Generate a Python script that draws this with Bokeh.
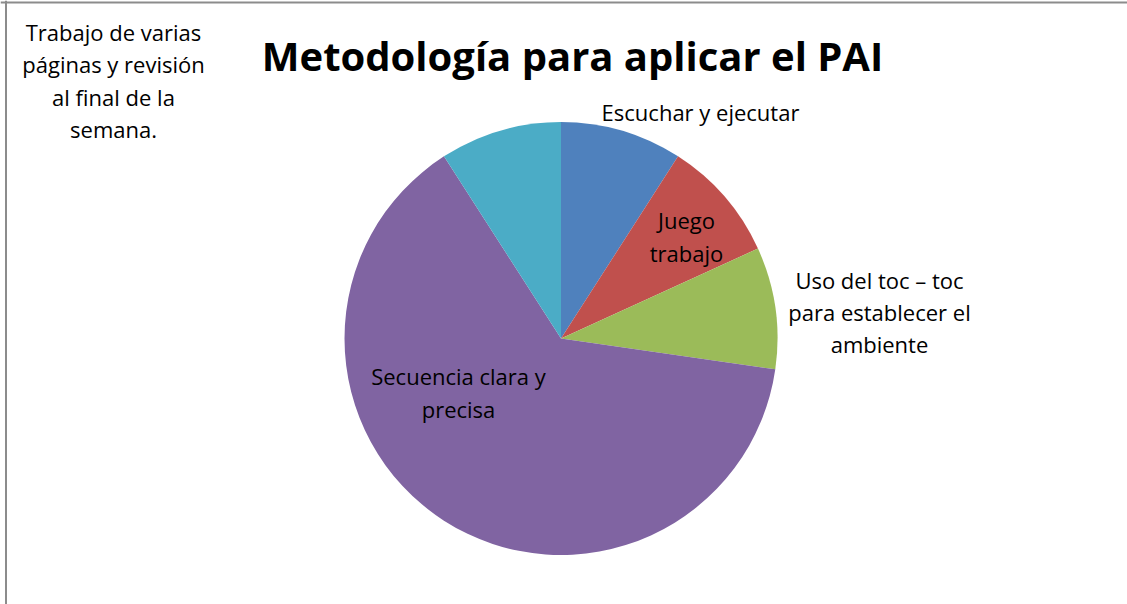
import numpy as np
from bokeh.plotting import figure
from bokeh.models import Range1d, Span, ColumnDataSource
from bokeh.core.properties import value
from bokeh.embed import file_html
from bokeh.resources import INLINE

# ---- data ----
categories = ["Escuchar y ejecutar", "Juego trabajo", "Uso del toc – toc para establecer el ambiente",
              "Secuencia clara y precisa", "Trabajo de varias páginas y revisión al final de la semana."]
values = [1, 1, 1, 7, 1]
colors = ["#4F81BD", "#C0504D", "#9BBB59", "#8064A2", "#4BACC6"]
label_texts = ["Escuchar y ejecutar", "Juego\ntrabajo", "Uso del toc – toc\npara establecer el\nambiente",
               "Secuencia clara y\nprecisa", "Trabajo de varias\npáginas y revisión\nal final de la\nsemana."]
title_text = "Metodología para aplicar el PAI"

W, H = 1127, 604

def px(v):
    return v

def py(v):
    return H - v

p = figure(width=W, height=H, output_backend="svg", toolbar_location=None,
           x_range=Range1d(0, W), y_range=Range1d(0, H),
           x_axis_location=None, y_axis_location=None, min_border=0)
p.grid.visible = False
p.outline_line_color = None
p.background_fill_color = "white"
p.border_fill_color = "white"

# pie
vals = np.array(values, dtype=float)
total = vals.sum()
cum = np.concatenate([[0], np.cumsum(vals)])
start = np.pi / 2 - cum[1:] / total * 2 * np.pi
end = np.pi / 2 - cum[:-1] / total * 2 * np.pi
cx, cy, r = px(560.5), py(338), 216.5
src = ColumnDataSource(dict(start=start, end=end, color=colors, cat=categories))
p.wedge(x=cx, y=cy, radius=r, start_angle="start", end_angle="end", fill_color="color",
        line_color=None, source=src)

# title
p.text(x=[px(572)], y=[py(55)], text=[title_text], text_font=value("Open Sans"), text_font_style="bold",
       text_font_size="40px", text_align="center", text_baseline="alphabetic", text_color="black")

# labels
lx = [px(700), px(686), px(879), px(458), px(113)]
ly = [py(111), py(236), py(311.5), py(392), py(80)]
p.text(x=lx, y=ly, text=label_texts, text_font=value("Open Sans"), text_font_size="22px",
       text_align="center", text_baseline="middle", text_line_height=1.07, text_color="black")

# frame
p.add_layout(Span(location=px(5.5), dimension="height", line_color="#8C8C8C", line_width=2))
p.add_layout(Span(location=py(2), dimension="width", line_color="#8C8C8C", line_width=2))

open("out.html", "w").write(file_html(p, INLINE))
